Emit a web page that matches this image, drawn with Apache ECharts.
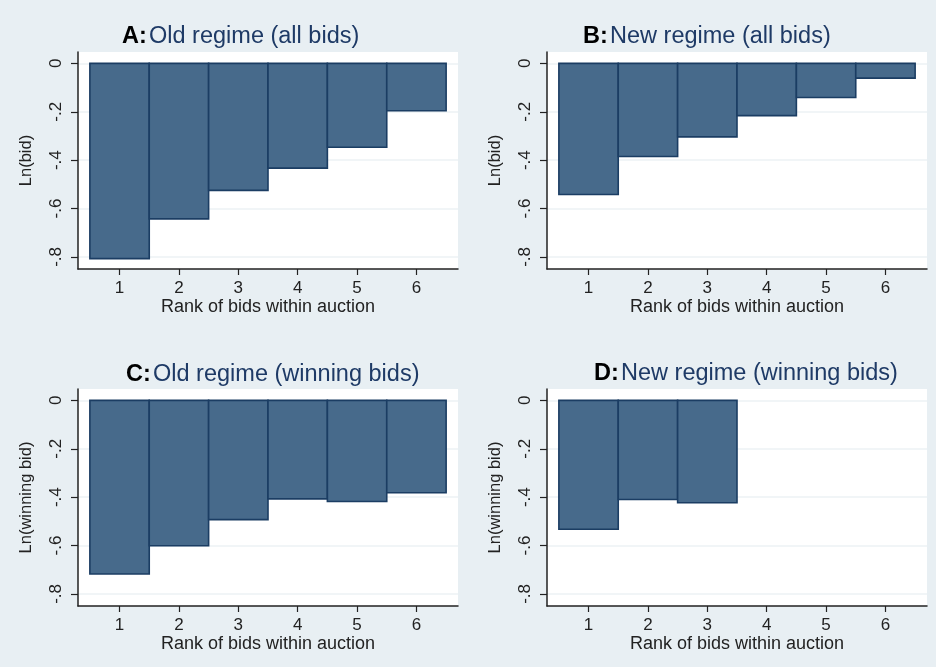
<!DOCTYPE html>
<html><head><meta charset="utf-8">
<script src="https://cdn.jsdelivr.net/npm/echarts@6/dist/echarts.min.js"></script>
<style>html,body{margin:0;padding:0;background:#e8eff3;}#c{width:936px;height:667px;}</style>
</head><body><div id="c"></div>
<script>
const ranks = [1, 2, 3, 4, 5, 6];
const oldAll = [-0.807, -0.643, -0.525, -0.433, -0.347, -0.196];
const newAll = [-0.542, -0.385, -0.304, -0.216, -0.141, -0.061];
const oldWin = [-0.718, -0.601, -0.493, -0.407, -0.418, -0.382];
const newWin = [-0.533, -0.41, -0.423];
const yTicks = [0, -0.2, -0.4, -0.6, -0.8];
const panelLetters = ['A:', 'B:', 'C:', 'D:'];
const panelTitles = ['Old regime (all bids)', 'New regime (all bids)', 'Old regime (winning bids)', 'New regime (winning bids)'];
const yNames = ['Ln(bid)', 'Ln(bid)', 'Ln(winning bid)', 'Ln(winning bid)'];
const xName = 'Rank of bids within auction';
const seriesData = [oldAll, newAll, oldWin, newWin];

const FONT = 'Liberation Sans, Arial, sans-serif';
const grids = [
  {left: 78, top: 52, width: 380, height: 217},
  {left: 547, top: 52, width: 380, height: 217},
  {left: 78, top: 389, width: 380, height: 217},
  {left: 547, top: 389, width: 380, height: 217}
];
const titlePos = [
  {left: 122, top: 25},
  {left: 583, top: 25},
  {left: 126, top: 363},
  {left: 594, top: 362}
];
const fmt = v => v === 0 ? '0' : v.toFixed(1).replace('0.', '.');

const option = {
  backgroundColor: '#e8eff3',
  animation: false,
  title: panelTitles.map((t, i) => ({
    text: '{b|' + panelLetters[i] + '}{s| }{n|' + t + '}',
    left: titlePos[i].left, top: titlePos[i].top, padding: 0,
    textStyle: {
      fontWeight: 'normal',
      rich: {
        b: {fontFamily: FONT, fontSize: 23.5, fontWeight: 'bold', color: '#000'},
        s: {fontFamily: FONT, fontSize: 8, fontWeight: 'normal'},
        n: {fontFamily: FONT, fontSize: 23.5, fontWeight: 'normal', color: '#1e3a66'}
      }
    }
  })),
  grid: grids.map(g => Object.assign({backgroundColor: '#fff', show: true, borderWidth: 0}, g)),
  xAxis: grids.map((g, i) => ({
    type: 'value', gridIndex: i, min: 0.3, max: 6.7,
    name: xName, nameLocation: 'middle', nameGap: 29,
    nameTextStyle: {fontFamily: FONT, fontSize: 18, color: '#222'},
    axisLine: {onZero: false, lineStyle: {color: '#222', width: 1.5}},
    axisTick: {show: true, length: 6, customValues: ranks, lineStyle: {color: '#222', width: 1.2}},
    axisLabel: {customValues: ranks, fontFamily: FONT, fontSize: 17, color: '#222', margin: 11},
    splitLine: {show: false}
  })),
  yAxis: grids.map((g, i) => ({
    type: 'value', gridIndex: i, min: -0.85, max: 0.047,
    name: yNames[i], nameLocation: 'middle', nameGap: 43, nameRotate: 90,
    nameTextStyle: {fontFamily: FONT, fontSize: 16.5, color: '#222'},
    axisLine: {show: true, onZero: false, lineStyle: {color: '#222', width: 1.5}},
    axisTick: {show: true, length: 7, customValues: yTicks, lineStyle: {color: '#222', width: 1.2}},
    axisLabel: {customValues: yTicks, rotate: 90, formatter: fmt, fontFamily: FONT, fontSize: 17, color: '#222', margin: 13},
    splitLine: {show: true, lineStyle: {color: '#edf2f5', width: 1.5}}
  })),
  series: seriesData.map((vals, i) => ({
    type: 'custom', xAxisIndex: i, yAxisIndex: i,
    data: vals.map((v, k) => [ranks[k], v]),
    renderItem: function (params, api) {
      const r = api.value(0), v = api.value(1);
      const p0 = api.coord([r - 0.5, 0]);
      const p1 = api.coord([r + 0.5, v]);
      return {
        type: 'rect',
        shape: {x: p0[0], y: p0[1], width: p1[0] - p0[0], height: p1[1] - p0[1]},
        style: {fill: '#476a8b', stroke: '#1b3d63', lineWidth: 1.6}
      };
    }
  }))
};
echarts.init(document.getElementById('c')).setOption(option);
</script>
</body></html>
